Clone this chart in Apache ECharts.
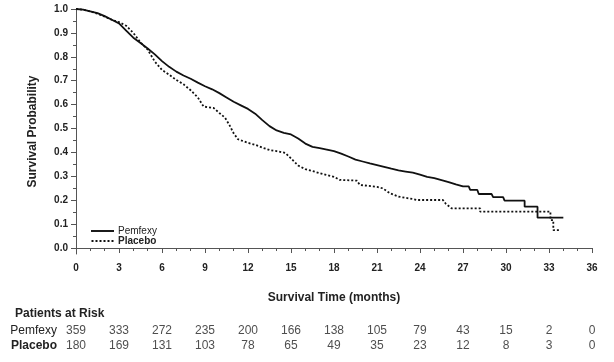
<!DOCTYPE html>
<html>
<head>
<meta charset="utf-8">
<script src="https://cdn.jsdelivr.net/npm/echarts@6/dist/echarts.min.js"></script>
<style>
html,body{margin:0;padding:0;background:#fff;}
#chart{width:614px;height:362px;}
</style>
</head>
<body>
<div id="chart"></div>
<script>
// ---- Data ----
const pemfexyCurve = [
  [0,1.0],[0.5,0.997],[1.0,0.99],[1.5,0.983],[2.0,0.97],[2.5,0.955],[3.0,0.94],[3.5,0.91],
  [4.0,0.88],[4.5,0.858],[5.0,0.835],[5.5,0.81],[6.0,0.782],[6.5,0.758],[7.0,0.738],[7.5,0.722],
  [8.0,0.708],[8.5,0.692],[9.0,0.677],[9.5,0.664],[10.0,0.648],[10.5,0.63],[11.0,0.612],[11.5,0.597],
  [12.0,0.582],[12.5,0.562],[13.0,0.535],[13.5,0.51],[14.0,0.492],[14.5,0.482],[15.0,0.475],[15.5,0.458],
  [16.0,0.437],[16.5,0.423],[17.0,0.418],[17.5,0.412],[18.0,0.405],[18.5,0.395],[19.0,0.383],[19.5,0.37],
  [20.0,0.362],[20.5,0.354],[21.0,0.347],[21.5,0.34],[22.0,0.332],[22.5,0.325],[23.0,0.32],[23.5,0.315],
  [24.0,0.307],[24.5,0.298],[25.0,0.292],[25.5,0.284],[26.0,0.276],[26.5,0.266],[27.0,0.258],
  [27.4,0.258],[27.5,0.243],[28.0,0.243],[28.1,0.226],[29.0,0.226],[29.1,0.213],[29.8,0.213],[29.9,0.198],
  [31.3,0.198],[31.3,0.173],[32.2,0.173],[32.2,0.127],[34.0,0.127]
];
const placeboCurve = [
  [0,1.0],[0.5,0.997],[1.0,0.99],[1.5,0.98],[2.0,0.968],[2.5,0.955],[3.0,0.945],[3.5,0.93],
  [4.0,0.9],[4.5,0.86],[5.0,0.83],[5.5,0.78],[6.0,0.745],[6.5,0.725],[7.0,0.703],[7.5,0.685],
  [8.0,0.66],[8.5,0.63],[8.9,0.592],[9.6,0.586],[10.0,0.565],[10.4,0.545],[10.7,0.515],[11.0,0.48],
  [11.3,0.455],[12.0,0.44],[12.5,0.432],[13.0,0.42],[13.5,0.41],[14.0,0.405],[14.6,0.398],[15.0,0.375],
  [15.5,0.345],[16.0,0.33],[16.5,0.322],[17.0,0.313],[17.5,0.305],[18.0,0.298],[18.4,0.285],[19.6,0.282],
  [19.8,0.264],[21.0,0.256],[21.4,0.25],[21.9,0.229],[22.5,0.215],[22.8,0.212],[23.5,0.205],[23.8,0.201],
  [25.6,0.201],[25.8,0.185],[26.2,0.166],[28.2,0.166],[28.2,0.152],[33.1,0.152],[33.1,0.117],[33.3,0.117],
  [33.3,0.075],[33.8,0.075]
];
const riskMonths = [0,3,6,9,12,15,18,21,24,27,30,33,36];
const pemfexyRisk = [359,333,272,235,200,166,138,105,79,43,15,2,0];
const placeboRisk = [180,169,131,103,78,65,49,35,23,12,8,3,0];
const yTickValues = [0,0.1,0.2,0.3,0.4,0.5,0.6,0.7,0.8,0.9,1.0];
const yMinorValues = [0.05,0.15,0.25,0.35,0.45,0.55,0.65,0.75,0.85,0.95];
const groupNames = ['Pemfexy','Placebo'];

// ---- Chart ----
const chart = echarts.init(document.getElementById('chart'), null, {renderer:'canvas'});
const FONT = 'Liberation Sans, Arial, sans-serif';
const axisColor = '#555';
const SOLID_ICON = 'path://M0,0H24V2H0Z';
const DOT_ICON = 'path://M0,0h2v2h-2zM4,0h2v2h-2zM8,0h2v2h-2zM12,0h2v2h-2zM16,0h2v2h-2zM20,0h2v2h-2z';

const riskData = [];
riskMonths.forEach((m,i)=>{
  riskData.push([m, groupNames[0], pemfexyRisk[i]]);
  riskData.push([m, groupNames[1], placeboRisk[i]]);
});

const option = {
  animation:false,
  backgroundColor:'#fff',
  textStyle:{fontFamily:FONT},
  title:{
    text:'Patients at Risk',
    left:10, top:303,
    textStyle:{fontFamily:FONT,fontSize:12,fontWeight:'bold',color:'#222'}
  },
  legend:{
    orient:'vertical',
    left:86, top:221,
    itemWidth:23, itemHeight:2, itemGap:0,
    data:[
      {name:'Pemfexy', icon:SOLID_ICON, textStyle:{fontWeight:'normal'}},
      {name:'Placebo', icon:DOT_ICON, textStyle:{fontWeight:'bold'}}
    ],
    itemStyle:{color:'#111'},
    textStyle:{fontFamily:FONT,fontSize:10,color:'#222',padding:[0,0,0,-1]}
  },
  grid:[
    {left:76, right:22, top:9, bottom:108, containLabel:false},
    {left:76, right:22, top:323, height:30, containLabel:false}
  ],
  xAxis:[
    {
      type:'value', gridIndex:0, min:0, max:36, interval:3,
      name:'Survival Time (months)', nameLocation:'middle', nameGap:38,
      nameTextStyle:{fontFamily:FONT,fontSize:12,fontWeight:'bold',color:'#222'},
      axisLine:{show:true,lineStyle:{color:axisColor,width:1}},
      axisTick:{show:true,inside:false,length:5,lineStyle:{color:axisColor}},
      minorTick:{show:true,splitNumber:3,length:3,lineStyle:{color:axisColor}},
      axisLabel:{fontFamily:FONT,fontSize:10,fontWeight:'bold',color:'#222',margin:9},
      splitLine:{show:false}
    },
    {
      type:'value', gridIndex:1, min:0, max:36, interval:3, show:false
    }
  ],
  yAxis:[
    {
      type:'value', gridIndex:0, min:-0.025, max:1.0,
      name:'Survival Probability', nameLocation:'middle', nameGap:37, nameRotate:90,
      nameTextStyle:{fontFamily:FONT,fontSize:12,fontWeight:'bold',color:'#222'},
      axisLine:{show:true,lineStyle:{color:axisColor,width:1}},
      axisTick:{show:true,inside:false,length:5,customValues:yTickValues,lineStyle:{color:axisColor}},
      axisLabel:{fontFamily:FONT,fontSize:10,fontWeight:'bold',color:'#222',margin:8,
        customValues:yTickValues, formatter:v=>v.toFixed(1)},
      splitLine:{show:false}
    },
    {
      type:'value', gridIndex:0, min:-0.025, max:1.0, position:'left',
      axisLine:{show:false},
      axisTick:{show:true,inside:false,length:3,customValues:yMinorValues,lineStyle:{color:axisColor}},
      axisLabel:{show:false},
      splitLine:{show:false}
    },
    {
      type:'category', gridIndex:1, data:groupNames, inverse:true,
      axisLine:{show:false}, axisTick:{show:false}, splitLine:{show:false},
      axisLabel:{
        interval:0, hideOverlap:false,
        margin:19, fontFamily:FONT, fontSize:12, color:'#222',
        formatter:v=> v==='Placebo' ? '{bo|'+v+'}' : '{no|'+v+'}',
        rich:{
          no:{fontFamily:FONT,fontSize:12,fontWeight:'normal',color:'#222'},
          bo:{fontFamily:FONT,fontSize:12,fontWeight:'bold',color:'#222'}
        }
      }
    }
  ],
  series:[
    {
      name:'Pemfexy', type:'line', xAxisIndex:0, yAxisIndex:0,
      data:pemfexyCurve, symbol:'none', showSymbol:false,
      lineStyle:{color:'#111',width:1.8,type:'solid'},
      itemStyle:{color:'#111'}
    },
    {
      name:'Placebo', type:'line', xAxisIndex:0, yAxisIndex:0,
      data:placeboCurve, symbol:'none', showSymbol:false,
      lineStyle:{color:'#111',width:1.8,type:[2,2]},
      itemStyle:{color:'#111'}
    },
    {
      name:'risk', type:'scatter', xAxisIndex:1, yAxisIndex:2,
      data:riskData, symbolSize:1, itemStyle:{color:'rgba(0,0,0,0)'},
      silent:true,
      label:{show:true,position:'inside',formatter:p=>String(p.value[2]),
        fontFamily:FONT,fontSize:12,color:'#222'}
    }
  ]
};
chart.setOption(option);
</script>
</body>
</html>
